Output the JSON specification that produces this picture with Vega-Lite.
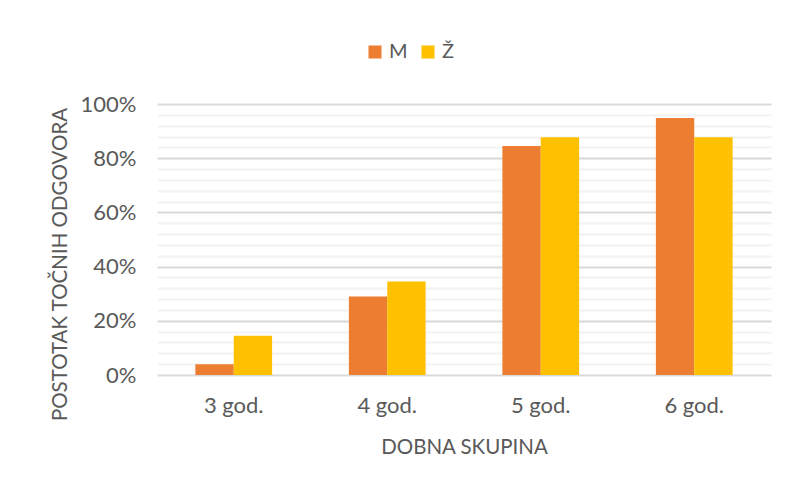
{
  "$schema": "https://vega.github.io/schema/vega-lite/v6.json",
  "autosize": "none",
  "width": 614,
  "height": 271,
  "padding": {"left": 157, "top": 104, "right": 19, "bottom": 107},
  "background": "white",
  "config": {
    "view": {"stroke": null},
    "font": "Lato",
    "axis": {"labelColor": "#595959", "titleColor": "#595959", "labelFont": "Lato", "titleFont": "Lato", "titleFontWeight": "normal"},
    "legend": {"labelColor": "#595959", "labelFont": "Lato"}
  },
  "data": {
    "values": [
      {"group": "3 god.", "sex": "M", "value": 0.04},
      {"group": "3 god.", "sex": "Ž", "value": 0.145},
      {"group": "4 god.", "sex": "M", "value": 0.29},
      {"group": "4 god.", "sex": "Ž", "value": 0.345},
      {"group": "5 god.", "sex": "M", "value": 0.845},
      {"group": "5 god.", "sex": "Ž", "value": 0.877},
      {"group": "6 god.", "sex": "M", "value": 0.948},
      {"group": "6 god.", "sex": "Ž", "value": 0.877}
    ]
  },
  "mark": {"type": "bar"},
  "encoding": {
    "x": {
      "field": "group",
      "type": "nominal",
      "scale": {"paddingInner": 0.5, "paddingOuter": 0.25},
      "axis": {
        "title": "DOBNA SKUPINA",
        "labelAngle": 0,
        "labelFontSize": 22,
        "titleFontSize": 20.5,
        "labelPadding": 20,
        "ticks": false,
        "domain": false,
        "titleBaseline": "alphabetic",
        "titleY": 78
      }
    },
    "xOffset": {"field": "sex", "type": "nominal", "sort": ["M", "Ž"], "scale": {"paddingInner": 0, "paddingOuter": 0}},
    "y": {
      "field": "value",
      "type": "quantitative",
      "scale": {"domain": [0, 1], "nice": false},
      "axis": {
        "title": "POSTOTAK TOČNIH ODGOVORA",
        "values": [0, 0.04, 0.08, 0.12, 0.16, 0.2, 0.24, 0.28, 0.32, 0.36, 0.4, 0.44, 0.48, 0.52, 0.56, 0.6, 0.64, 0.68, 0.72, 0.76, 0.8, 0.84, 0.88, 0.92, 0.96, 1],
        "labelExpr": "round(datum.value*100) % 20 == 0 ? format(datum.value, '.0%') : ''",
        "gridColor": {"condition": {"test": "round(datum.value*100) % 20 == 0", "value": "#D9D9D9"}, "value": "#F2F2F2"},
        "gridWidth": 2,
        "labelFontSize": 22,
        "titleFontSize": 20.5,
        "labelPadding": 21,
        "ticks": false,
        "domain": false,
        "titleAngle": -90,
        "titleAlign": "center",
        "titleBaseline": "middle",
        "titleX": -97,
        "titleY": 160
      }
    },
    "color": {
      "field": "sex",
      "type": "nominal",
      "scale": {"domain": ["M", "Ž"], "range": ["#ED7D31", "#FFC000"]},
      "legend": {
        "title": null,
        "orient": "none",
        "direction": "horizontal",
        "legendX": 208,
        "legendY": -62,
        "symbolType": "square",
        "symbolSize": 169,
        "symbolStrokeWidth": 0,
        "labelFontSize": 20,
        "labelOffset": 4,
        "columnPadding": 10,
        "padding": 0
      }
    }
  }
}
